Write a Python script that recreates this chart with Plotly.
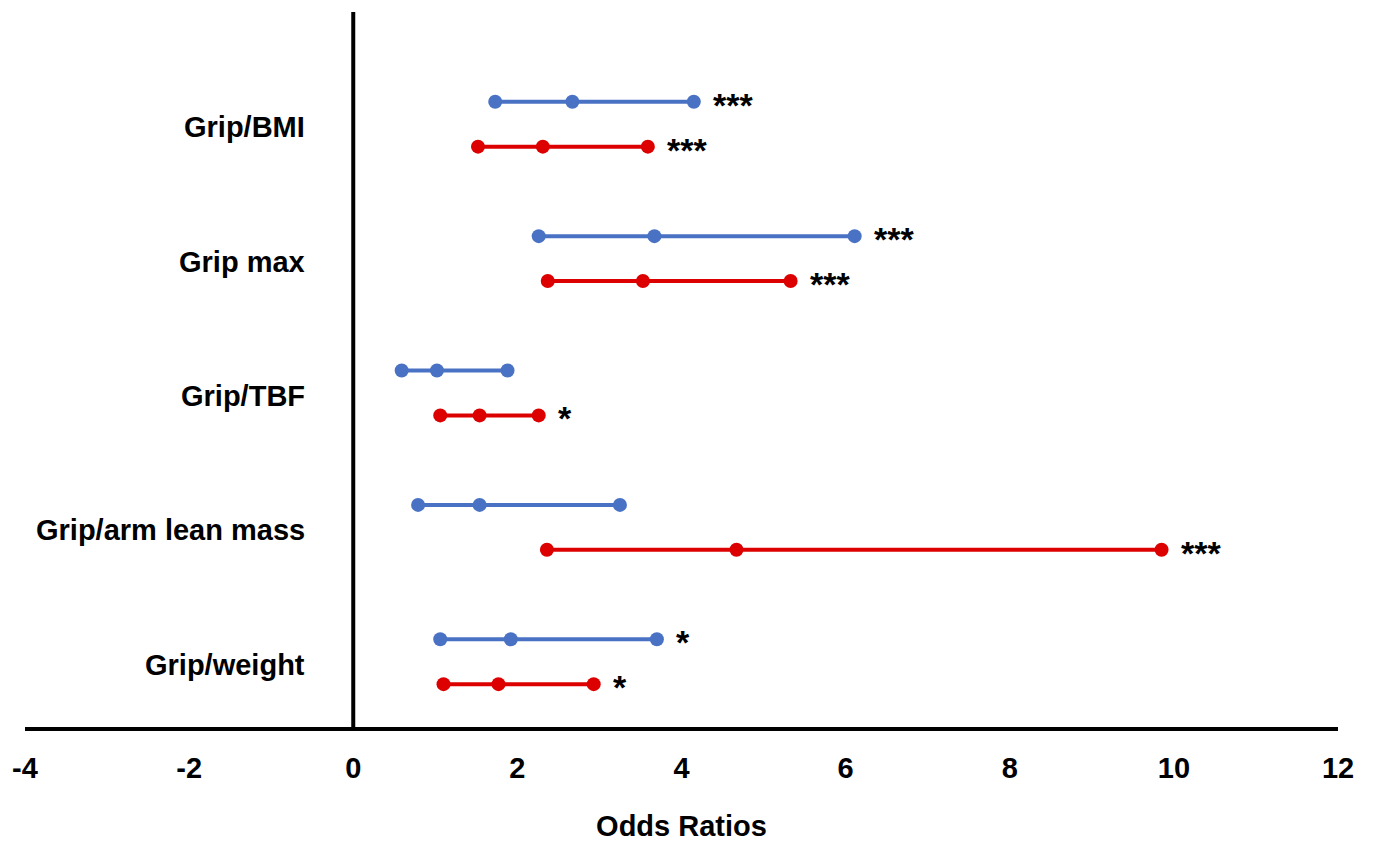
import plotly.graph_objects as go

categories = ["Grip/weight", "Grip/arm lean mass", "Grip/TBF", "Grip max", "Grip/BMI"]
blue_low = [1.06, 0.79, 0.59, 2.26, 1.73]
blue_mid = [1.92, 1.54, 1.02, 3.67, 2.67]
blue_high = [3.70, 3.25, 1.88, 6.11, 4.15]
blue_sig = ["*", "", "", "***", "***"]
red_low = [1.10, 2.36, 1.06, 2.37, 1.52]
red_mid = [1.77, 4.67, 1.54, 3.53, 2.31]
red_high = [2.93, 9.85, 2.26, 5.33, 3.59]
red_sig = ["*", "***", "*", "***", "***"]
x_ticks = [-4, -2, 0, 2, 4, 6, 8, 10, 12]

BLUE = "#4A72C4"
RED = "#DD0000"
FONT = "Liberation Sans, Arial, sans-serif"
OFF = 0.167

fig = go.Figure()
for i, cat in enumerate(categories):
    pos = i + 1
    for lows, mids, highs, sigs, color, dy in [
        (blue_low, blue_mid, blue_high, blue_sig, BLUE, OFF),
        (red_low, red_mid, red_high, red_sig, RED, -OFF),
    ]:
        fig.add_trace(go.Scatter(
            x=[lows[i], mids[i], highs[i]], y=[pos + dy] * 3,
            mode="lines+markers",
            line=dict(color=color, width=4),
            marker=dict(color=color, size=14),
            showlegend=False, hoverinfo="x",
        ))
        if sigs[i]:
            fig.add_annotation(
                x=highs[i], y=pos + dy, text="<b>" + sigs[i] + "</b>",
                showarrow=False, xanchor="left", xshift=17, yshift=-3,
                font=dict(size=34, color="black", family=FONT),
            )
    fig.add_annotation(
        x=0, y=pos, text="<b>" + cat + "</b>", showarrow=False,
        xanchor="right", xshift=-46, yshift=-3,
        font=dict(size=29, color="black", family=FONT),
    )

fig.add_shape(type="line", xref="x", yref="paper", x0=0, x1=0, y0=0, y1=1,
              line=dict(color="black", width=4))

fig.update_layout(
    width=1375, height=842,
    margin=dict(l=14, r=45, t=4, b=123),
    plot_bgcolor="white", paper_bgcolor="white",
    font=dict(family=FONT, color="black"),
    xaxis=dict(
        range=[-4, 12], tickvals=x_ticks,
        ticktext=["<b>%d</b>" % t for t in x_ticks],
        tickfont=dict(size=29, family=FONT), showgrid=False, zeroline=False,
        showline=True, linecolor="black", linewidth=4, ticks="",
        ticklabelstandoff=12,
        title=dict(text="<b>Odds Ratios</b>", font=dict(size=29, family=FONT), standoff=34),
    ),
    yaxis=dict(range=[0.514, 5.835], showticklabels=False, showgrid=False,
               zeroline=False, showline=False),
)

fig.write_html("out.html")
